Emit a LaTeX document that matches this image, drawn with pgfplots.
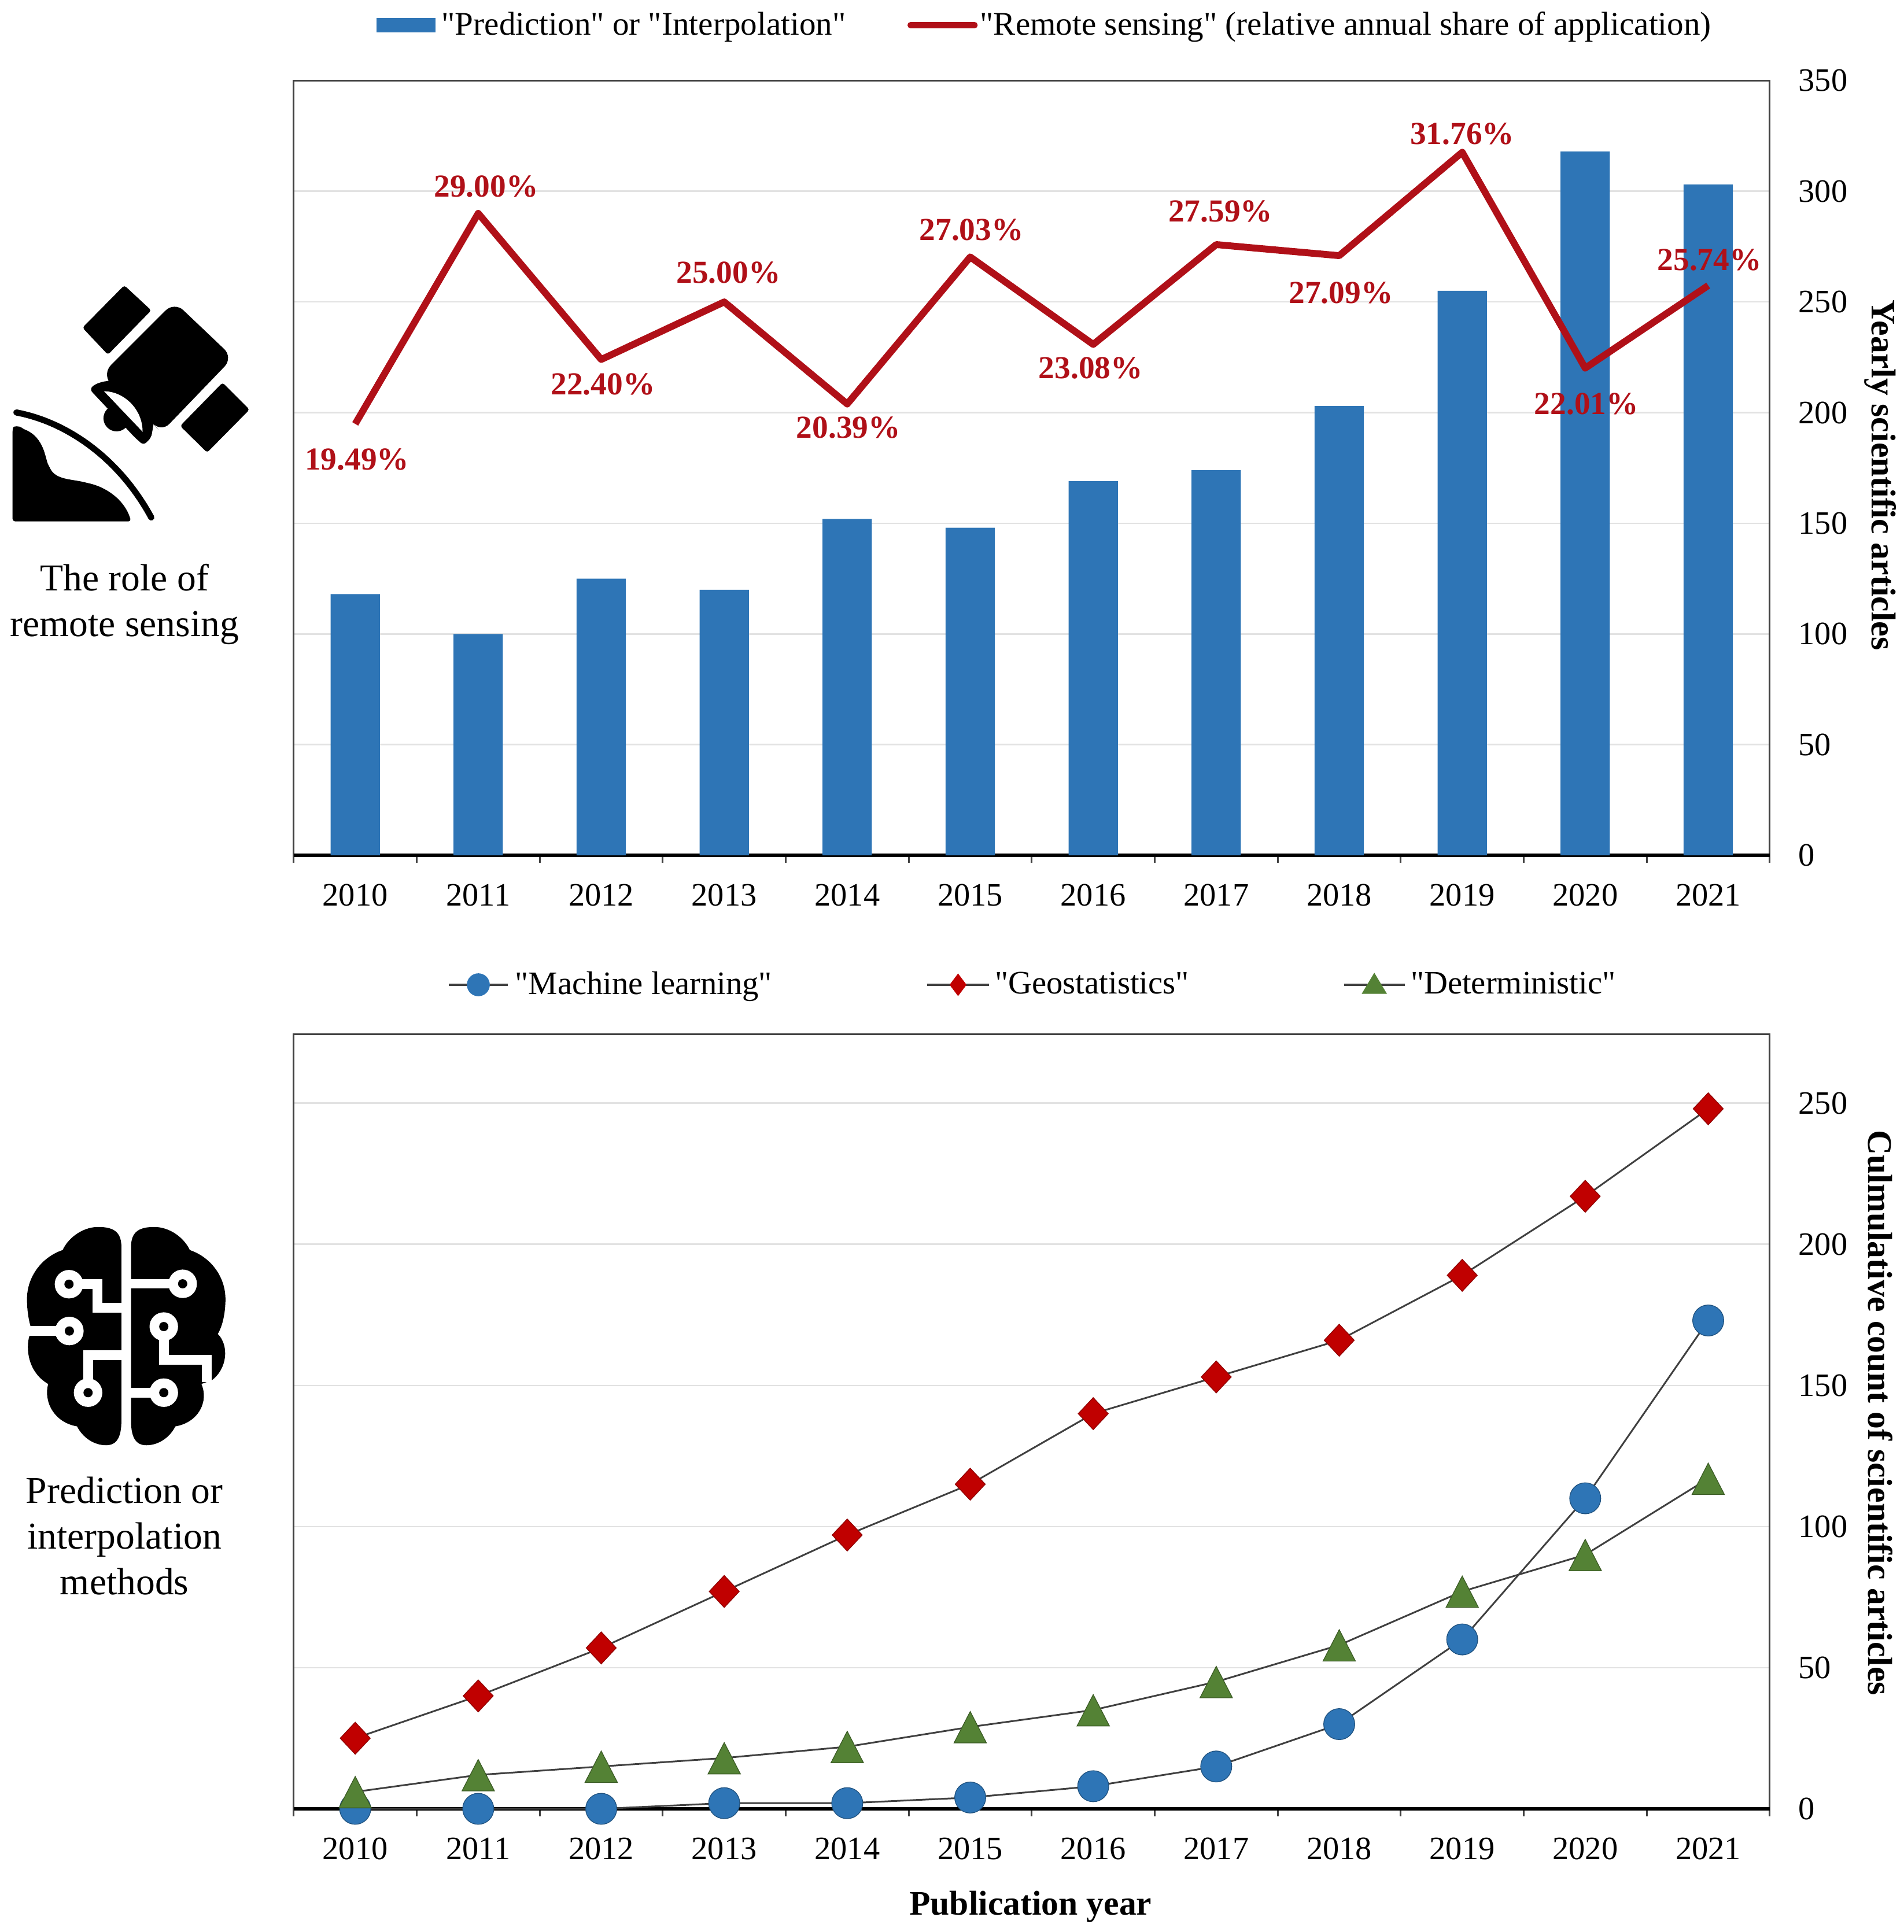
\documentclass[border=0pt]{standalone}
\usepackage{fontspec}
\usepackage{pgfplots}
\usepackage{pgfplotstable}
\pgfplotsset{compat=1.18}
\setmainfont{Liberation Serif}
% no tex-text mapping here, so that " stays a straight quote
\newfontfamily\legendfont{Liberation Serif}

\definecolor{barblue}{HTML}{2E75B6}
\definecolor{linered}{HTML}{B01018}
\definecolor{markred}{HTML}{C00000}
\definecolor{markgreen}{HTML}{548235}
\definecolor{framegray}{HTML}{404040}
\definecolor{gridgray}{HTML}{E2E2E2}

\pgfplotstableread{
x articles
0 118
1 100
2 125
3 120
4 152
5 148
6 169
7 174
8 203
9 255
10 318
11 303
}\yearly

\pgfplotstableread{
x share dx dy
0 19.49 0.7 -14.5
1 29.00 3.2 11
2 22.40 0.7 -10
3 25.00 1.7 12
4 20.39 0.5 -9.5
5 27.03 0.5 11
6 23.08 -1 -9.5
7 27.59 1.7 13.5
8 27.09 0.7 -15
9 31.76 0 7.5
10 22.01 0.5 -14.5
11 25.74 0.5 10.5
}\remote

\pgfplotstableread{
x ml geo det
0 0 25 6
1 0 40 12
2 0 57 15
3 2 77 18
4 2 97 22
5 4 115 29
6 8 140 35
7 15 153 45
8 30 166 58
9 60 189 77
10 110 217 90
11 173 248 117
}\methods

\pgfplotsset{
  panel/.style={
    scale only axis, width=599pt, height=314.5pt, anchor=south west,
    xmin=-0.5, xmax=11.5, ymin=0, clip=false,
    xtick={0,...,11},
    xticklabels={2010,2011,2012,2013,2014,2015,2016,2017,2018,2019,2020,2021},
    minor xtick={-0.5,0.5,...,11.5},
    tick align=outside, major tick length=0pt, minor tick length=3pt,
    tick style={framegray, line width=0.7pt},
    minor tick style={framegray, line width=0.7pt},
    ytick pos=right, yticklabel pos=right, xtick pos=bottom,
    ymajorgrids, grid style={gridgray, line width=0.6pt},
    axis line style={framegray, line width=0.7pt},
    /pgf/number format/assume math mode=true,
    tick label style={font=\fontsize{13.25}{15}\selectfont},
    xticklabel style={inner sep=0pt, yshift=-11.5pt},
    yticklabel style={anchor=west, inner sep=0pt, xshift=11.5pt},
    label style={font=\fontsize{14}{16}\selectfont\bfseries},
    legend style={draw=none, fill=none, inner sep=0pt, outer sep=0pt,
      nodes={inner sep=0pt}},
    legend cell align=left,
  },
}

\begin{document}
\begin{tikzpicture}
\path[use as bounding box] (0,0) rectangle (772.5pt,784.2pt);

% top panel
\begin{axis}[panel, at={(119.2pt,437pt)}, ymax=350, ybar, bar width=20pt,
    ytick={0,50,...,350},
    ylabel={Yearly scientific articles},
    ylabel style={at={(axis description cs:1.0750,0.491)}, rotate=180, anchor=center},
    legend columns=2,
    legend style={at={(axis description cs:0.056,1.0715)}, anchor=west,
      font=\legendfont\fontsize{13.4}{16}\selectfont},
    /tikz/column 1/.style={column sep=2.5pt},
    /tikz/column 2/.style={column sep=25pt},
    /tikz/column 3/.style={column sep=1pt},
  ]
  \draw[black, line width=1.3pt] (rel axis cs:0,0) -- (rel axis cs:1,0);
  \addplot[fill=barblue, draw=none,
    legend image code/.code={\fill[barblue] (0pt,-3pt) rectangle (24pt,3pt);}]
    table[x=x, y=articles] {\yearly};
  \addlegendentry{"Prediction" or "Interpolation"}
  \addlegendimage{legend image code/.code={\draw[linered, line width=2.5pt, line cap=round] (0pt,0pt) -- (26pt,0pt);}}
  \addlegendentry{"Remote sensing" (relative annual share of application)}
\end{axis}

% annual share of remote sensing, on its own hidden scale
\begin{axis}[panel, at={(119.2pt,437pt)}, ymax=35, hide axis]
  \addplot[linered, line width=2.8pt, line join=round,
    point meta=explicit symbolic,
    visualization depends on={\thisrow{dx} \as \labdx},
    visualization depends on={\thisrow{dy} \as \labdy},
    nodes near coords={\pgfplotspointmeta\%},
    every node near coord/.style={anchor=center, inner sep=0pt,
      xshift=\labdx pt, yshift=\labdy pt, text=linered,
      font=\fontsize{13}{15}\selectfont\bfseries}]
    table[x=x, y=share, meta=share] {\remote};
\end{axis}

% bottom panel
\begin{axis}[panel, at={(119.2pt,50pt)}, ymax=274.5,
    ytick={0,50,...,250},
    xlabel={Publication year},
    xlabel style={at={(axis description cs:0.4992,-0.1265)}, anchor=center},
    ylabel={Culmulative count of scientific articles},
    ylabel style={at={(axis description cs:1.0750,0.511)}, rotate=180, anchor=center},
    legend columns=3,
    legend style={at={(axis description cs:0.1043,1.0635)}, anchor=west,
      font=\legendfont\fontsize{13.3}{16}\selectfont},
    /tikz/column 1/.style={column sep=2.5pt},
    /tikz/column 2/.style={column sep=62.5pt},
    /tikz/column 3/.style={column sep=2pt},
    /tikz/column 4/.style={column sep=62.5pt},
    /tikz/column 5/.style={column sep=2pt},
  ]
  \draw[black, line width=1.3pt] (rel axis cs:0,0) -- (rel axis cs:1,0);
  \addplot[framegray, line width=0.7pt, mark=*, mark size=6.3pt,
    mark options={fill=barblue, draw=barblue!70!black, line width=0.3pt},
    legend image code/.code={
      \draw[framegray, line width=0.9pt] (0pt,0pt) -- (24pt,0pt);
      \fill[barblue] (12pt,0pt) circle (4.3pt);}]
    table[x=x, y=ml] {\methods};
  \addlegendentry{"Machine learning"}
  \addplot[framegray, line width=0.7pt, mark=diamond*, mark size=6.5pt,
    mark options={fill=markred, draw=markred!75!black, line width=0.3pt, xscale=1.25},
    legend image code/.code={
      \draw[framegray, line width=0.9pt] (0pt,0pt) -- (25pt,0pt);
      \fill[markred] (12.5pt,4pt) -- (15.5pt,0pt) -- (12.5pt,-4pt) -- (9.5pt,0pt) -- cycle;}]
    table[x=x, y=geo] {\methods};
  \addlegendentry{"Geostatistics"}
  \addplot[framegray, line width=0.7pt, mark=triangle*, mark size=7.6pt,
    mark options={fill=markgreen, draw=markgreen!70!black, line width=0.3pt, yscale=1.12, yshift=-2pt},
    legend image code/.code={
      \draw[framegray, line width=0.9pt] (0pt,0pt) -- (24.5pt,0pt);
      \fill[markgreen] (12.2pt,4.2pt) -- (16.7pt,-3.3pt) -- (7.7pt,-3.3pt) -- cycle;}]
    table[x=x, y=det] {\methods};
  \addlegendentry{"Deterministic"}
\end{axis}

% side captions
\node[align=center, font=\fontsize{15.4}{18.5}\selectfont] at (50.5pt,539pt)
  {The role of\\remote sensing};
\node[align=center, font=\fontsize{15.4}{18.5}\selectfont] at (50.5pt,160.7pt)
  {Prediction or\\interpolation\\methods};

% satellite icon
\begin{scope}[shift={(0pt,676.2pt)}, x=0.0782pt, y=-0.0782pt]
  \fill[rounded corners=1pt] (645,100) -- (785,230) -- (560,460) -- (428,320) -- cycle;
  \fill[rounded corners=1pt] (1155,605) -- (1295,745) -- (1075,968) -- (935,830) -- cycle;
  \fill[rounded corners=5pt] (530,560) -- (905,185) -- (1210,475) -- (835,865) -- (780,800) -- (600,640) -- cycle;
  \fill[rounded corners=1.5pt] (465,640) .. controls (500,605) and (550,595) .. (600,595)
    -- (800,800) -- (785,890) -- (745,930) -- (700,890) -- cycle;
  \fill (605,790) circle (68);
  \fill[white] (540,650) .. controls (640,650) and (740,740) .. (740,860) -- cycle;
  \draw[line width=2.5pt, line cap=round] (85,760) .. controls (350,810) and (620,1000) .. (785,1305);
  \fill[rounded corners=1pt] (65,1325) -- (65,850) .. controls (70,830) and (100,830) .. (120,845)
    .. controls (230,890) and (235,1000) .. (255,1040)
    .. controls (290,1110) and (370,1105) .. (450,1125)
    .. controls (560,1150) and (650,1220) .. (680,1325) -- cycle;
\end{scope}

% brain icon
\begin{scope}[shift={(0pt,293.6pt)}, x=0.0782pt, y=-0.0782pt]
  \fill (630,200) .. controls (630,130) and (600,95) .. (510,95)
    .. controls (430,95) and (355,150) .. (325,215)
    .. controls (220,250) and (140,350) .. (140,470)
    .. controls (140,530) and (150,590) .. (165,630)
    .. controls (130,690) and (130,840) .. (250,910)
    .. controls (225,1000) and (280,1110) .. (400,1130)
    .. controls (430,1190) and (490,1228) .. (550,1228)
    .. controls (610,1228) and (630,1180) .. (630,1100) -- cycle;
  \fill (680,200) .. controls (680,130) and (710,95) .. (800,95)
    .. controls (880,95) and (955,150) .. (985,215)
    .. controls (1090,250) and (1170,350) .. (1170,470)
    .. controls (1170,540) and (1155,610) .. (1130,650)
    .. controls (1190,710) and (1180,830) .. (1100,890)
    -- (1045,910)
    .. controls (1085,1000) and (1030,1110) .. (910,1130)
    .. controls (880,1190) and (820,1228) .. (760,1228)
    .. controls (700,1228) and (680,1180) .. (680,1100) -- cycle;
  \draw[white, line width=3.9pt]
    (358,392) -- (505,392) -- (505,515) -- (640,515)
    (360,635) -- (150,635)
    (457,955) -- (457,760) -- (640,760)
    (948,390) -- (670,390)
    (850,612) -- (850,785) -- (1073,785) -- (1073,900)
    (850,955) -- (670,955);
  \foreach \cx/\cy in {358/392,360/635,457/955,948/390,850/612,850/955} {
    \fill[white] (\cx,\cy) circle (74);
    \fill (\cx,\cy) circle (24);
  }
\end{scope}
\end{tikzpicture}
\end{document}
